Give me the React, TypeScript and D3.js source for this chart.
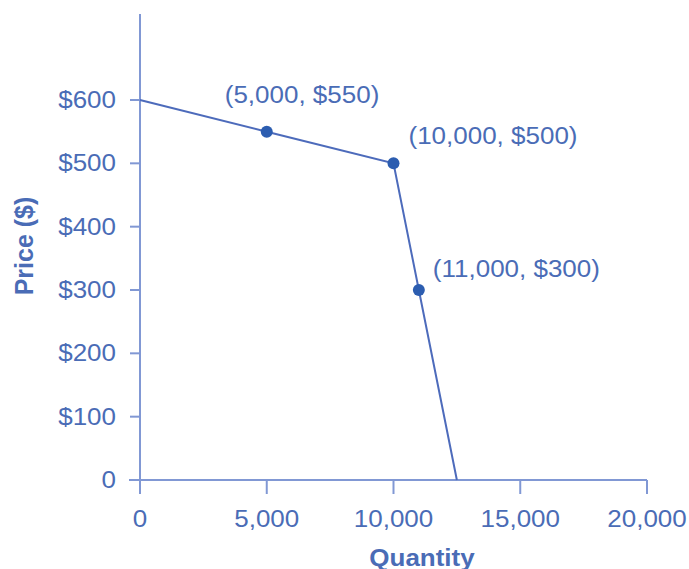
import React from "react";
import * as d3 from "d3";

const curveQuantity = [0, 5000, 10000, 11000, 12500];
const curvePrice = [600, 550, 500, 300, 0];
const pointQuantity = [5000, 10000, 11000];
const pointPrice = [550, 500, 300];
const pointLabels = ["(5,000, $550)", "(10,000, $500)", "(11,000, $300)"];
const xTicks = [0, 5000, 10000, 15000, 20000];
const yTicks = [0, 100, 200, 300, 400, 500, 600];
const xTitle = "Quantity";
const yTitle = "Price ($)";

// label placement offsets (styling)
const labelDx = [-42, 15, 14];
const labelDy = [-29, -19, -13];

const W = 689;
const H = 569;
const TEXT = "#4a6cb6";
const AXIS = "#8198d4";
const LINE = "#4d6bbb";
const DOT = "#2c5db0";
const FONT = "'Liberation Sans', Arial, Helvetica, sans-serif";
const SX = 1.13;

export default function App() {
  const x = d3.scaleLinear().domain([0, 20000]).range([140, 647]);
  const y = d3.scaleLinear().domain([0, 600]).range([480, 100]);
  const line = d3
    .line<number>()
    .x((_, i) => x(curveQuantity[i]))
    .y((_, i) => y(curvePrice[i]));
  const fmtX = d3.format(",");
  const fmtY = (v: number) => (v === 0 ? "0" : "$" + v);

  return (
    <svg
      width={W}
      height={H}
      style={{ position: "absolute", left: 0, top: 0, background: "#fff" }}
      fontFamily={FONT}
    >
      {/* axes */}
      <line x1={x(0)} x2={x(0)} y1={14} y2={y(0)} stroke={AXIS} strokeWidth={2} />
      <line x1={x(0) - 11} x2={x(20000)} y1={y(0)} y2={y(0)} stroke={AXIS} strokeWidth={2} />
      {yTicks.map((t) => (
        <g key={"y" + t}>
          <line x1={x(0) - 10} x2={x(0)} y1={y(t)} y2={y(t)} stroke={AXIS} strokeWidth={2} />
          <text
            transform={`translate(116,${y(t) + 8}) scale(${SX},1)`}
            textAnchor="end"
            fontSize={23}
            fill={TEXT}
          >
            {fmtY(t)}
          </text>
        </g>
      ))}
      {xTicks.map((t) => (
        <g key={"x" + t}>
          <line x1={x(t)} x2={x(t)} y1={y(0)} y2={y(0) + 14} stroke={AXIS} strokeWidth={2} />
          <text
            transform={`translate(${x(t)},527) scale(${SX},1)`}
            textAnchor="middle"
            fontSize={23}
            fill={TEXT}
          >
            {fmtX(t)}
          </text>
        </g>
      ))}
      <text
        transform={`translate(422,566) scale(${SX},1)`}
        textAnchor="middle"
        fontSize={23}
        fontWeight="bold"
        fill={TEXT}
      >
        {xTitle}
      </text>
      <text
        transform={`translate(33,246) rotate(-90)`}
        textAnchor="middle"
        fontSize={25}
        fontWeight="bold"
        fill={TEXT}
      >
        {yTitle}
      </text>

      {/* demand curve */}
      <path d={line(curvePrice) || ""} fill="none" stroke={LINE} strokeWidth={2} />
      {pointQuantity.map((q, i) => (
        <g key={"p" + i}>
          <circle cx={x(q)} cy={y(pointPrice[i])} r={6} fill={DOT} />
          <text
            transform={`translate(${x(q) + labelDx[i]},${y(pointPrice[i]) + labelDy[i]}) scale(${SX},1)`}
            fontSize={23}
            fill={TEXT}
          >
            {pointLabels[i]}
          </text>
        </g>
      ))}
    </svg>
  );
}
